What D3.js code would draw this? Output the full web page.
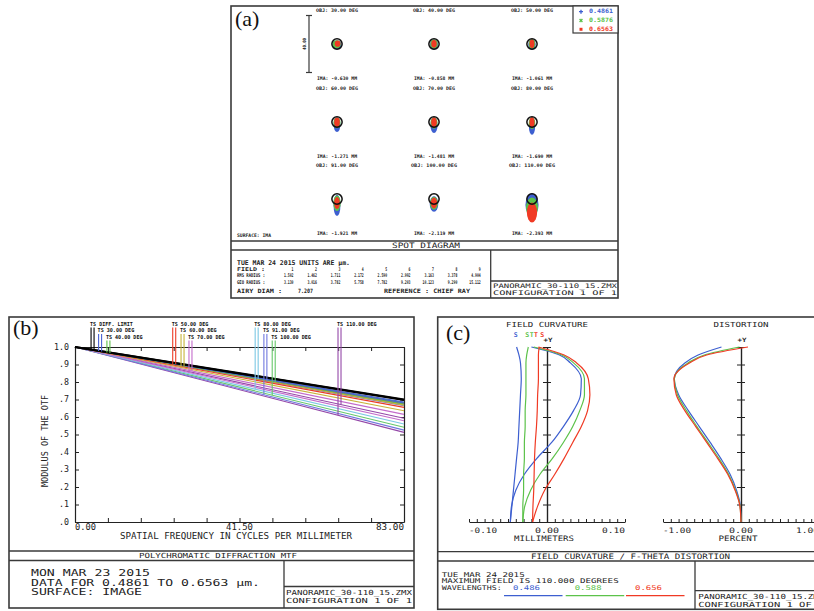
<!DOCTYPE html>
<html>
<head>
<meta charset="utf-8">
<script src="https://cdn.jsdelivr.net/npm/d3@7"></script>
<style>
  body { margin: 0; background: #fff; }
  svg { display: block; }
</style>
</head>
<body>
<svg id="fig" width="814" height="611"></svg>
<script>
// ---------- spot diagram (a) ----------
const spotWaves = ["0.4861", "0.5876", "0.6563"];
const waveColors = ["#3d5fd0", "#5cc24a", "#f03a24"];
const spotObj = ["30.00", "40.00", "50.00", "60.00", "70.00", "80.00", "91.00", "100.00", "110.00"];
const spotIma = ["-0.630", "-0.858", "-1.061", "-1.271", "-1.481", "-1.690", "-1.921", "-2.119", "-2.393"];
const rmsRadius = ["1.502", "1.462", "1.711", "2.172", "2.590", "2.992", "3.163", "3.378", "4.904"];
const geoRadius = ["3.130", "3.016", "3.782", "5.758", "7.782", "9.203", "10.123", "9.290", "15.112"];
const airyDiam = 7.207;
const scaleBarUm = 40;
// spot blobs per field: [dx, dy, rx, ry] in µm (dy down)
const spot486 = [[0, 0.6, 3.2, 3.0], [0, 0.5, 2.8, 3.4], [0, 0.5, 2.6, 3.6], [0, 2.0, 2.4, 5.0], [0, 2.4, 2.5, 5.4], [0, 3.0, 2.2, 6.0], [0, 4.5, 2.4, 7.5], [0, 3.5, 3.0, 5.5], [0, 4.0, 4.6, 8.0]];
const spot588 = [[-0.2, 0.1, 2.8, 2.8], [0, 0, 2.6, 3.1], [0, 0, 2.3, 3.3], [0, 0.6, 2.5, 3.8], [0, 0.7, 2.5, 4.0], [0, 0.8, 2.3, 4.2], [0, 3.0, 2.6, 5.5], [0, 3.0, 2.8, 4.5], [0, 6.0, 4.2, 7.0]];
const spot656 = [[0.4, -0.2, 2.0, 2.2], [0, -0.1, 1.9, 2.7], [0, -0.1, 1.7, 3.0], [0, 0.2, 2.0, 3.4], [0, 0.2, 2.0, 3.6], [0, 0.3, 1.8, 3.8], [0, 2.8, 2.0, 4.2], [0, 2.8, 2.2, 3.8], [0, 9.5, 3.6, 7.0]];

// ---------- MTF (b) ----------
const mtfFreqs = [0, 83];
const mtfFields = ["DIFF. LIMIT", "30.00 DEG", "40.00 DEG", "50.00 DEG", "60.00 DEG", "70.00 DEG", "80.00 DEG", "91.00 DEG", "100.00 DEG", "110.00 DEG"];
const mtfColors = ["#000000", "#4a62d4", "#5cc04a", "#ec3a26", "#c8b43a", "#c46ccc", "#7cc8e4", "#7078de", "#66c86a", "#9448a8"];
const mtfTan = [[1, 0.700], [1, 0.686], [1, 0.682], [1, 0.676], [1, 0.668], [1, 0.615], [1, 0.672], [1, 0.665], [1, 0.670], [1, 0.593]];
const mtfSag = [[1, 0.697], [1, 0.680], [1, 0.674], [1, 0.655], [1, 0.636], [1, 0.579], [1, 0.560], [1, 0.525], [1, 0.541], [1, 0.512]];
const mtfLegendFreq = [3.8, 5.7, 7.8, 24.4, 26.5, 28.5, 45.2, 47.4, 49.5, 66.1];
const mtfLegendRow = [0, 1, 2, 0, 1, 2, 0, 1, 2, 0];
const mtfYTicks = ["1.0", ".9", ".8", ".7", ".6", ".5", ".4", ".3", ".2", ".1", ".0"];

// ---------- field curvature / distortion (c) ----------
const fcField = [0, 10, 20, 30, 40, 50, 60, 70, 80, 90, 100, 105, 110];
const fcTan486 = [-0.047, -0.0455, -0.040, -0.029, -0.013, 0.006, 0.021, 0.034, 0.043, 0.044, 0.030, 0.016, -0.020];
const fcTan588 = [-0.031, -0.0285, -0.021, -0.009, 0.007, 0.021, 0.033, 0.042, 0.048, 0.048, 0.034, 0.019, -0.017];
const fcTan656 = [-0.0185, -0.012, -0.003, 0.010, 0.022, 0.033, 0.044, 0.052, 0.055, 0.053, 0.038, 0.022, -0.011];
const fcSag486 = [-0.047, -0.045, -0.043, -0.041, -0.039, -0.037, -0.036, -0.035, -0.034, -0.033, -0.034, -0.036, -0.039];
const fcSag588 = [-0.031, -0.031, -0.030, -0.030, -0.029, -0.029, -0.028, -0.028, -0.027, -0.027, -0.027, -0.026, -0.024];
const fcSag656 = [-0.0185, -0.018, -0.017, -0.0165, -0.016, -0.015, -0.0135, -0.0125, -0.012, -0.011, -0.011, -0.011, -0.010];
const dist486 = [0, -0.008, -0.058, -0.14, -0.26, -0.395, -0.535, -0.675, -0.80, -0.855, -0.72, -0.55, -0.25];
const dist588 = [0, -0.012, -0.07, -0.16, -0.285, -0.425, -0.565, -0.70, -0.815, -0.855, -0.68, -0.47, -0.02];
const dist656 = [0, -0.014, -0.076, -0.17, -0.30, -0.44, -0.58, -0.72, -0.83, -0.86, -0.66, -0.44, 0.09];
const fcWaves = ["0.486", "0.588", "0.656"];
const fcLabels = [["S", -0.040, 0], ["S", -0.0255, 1], ["T", -0.0195, 1], ["T", -0.014, 2], ["S", -0.006, 2]];

const svg = d3.select("#fig");
const FONT = "DejaVu Sans Mono";
const EDGE = "#3a3a3a";

function label(g, s, x, y, o = {}) {
  const t = g.append("text").attr("x", x).attr("y", y).text(s)
    .attr("font-family", o.family || FONT)
    .attr("font-size", o.size || 7)
    .attr("text-anchor", o.anchor || "start")
    .attr("dominant-baseline", "middle")
    .attr("fill", o.fill || "#222");
  if (o.bold) t.attr("font-weight", "bold");
  if (o.len) t.attr("textLength", o.len).attr("lengthAdjust", "spacingAndGlyphs");
  if (o.rotate) t.attr("transform", `rotate(${o.rotate},${x},${y})`);
  return t;
}

function hline(g, x1, x2, y, w = 1.3) {
  g.append("line").attr("x1", x1).attr("x2", x2).attr("y1", y).attr("y2", y)
    .attr("stroke", EDGE).attr("stroke-width", w);
}
function vline(g, x, y1, y2, w = 1.3) {
  g.append("line").attr("x1", x).attr("x2", x).attr("y1", y1).attr("y2", y2)
    .attr("stroke", EDGE).attr("stroke-width", w);
}
function box(g, x1, y1, x2, y2) {
  g.append("rect").attr("x", x1).attr("y", y1).attr("width", x2 - x1).attr("height", y2 - y1)
    .attr("fill", "none").attr("stroke", EDGE).attr("stroke-width", 1.6);
}

// ================= panel (a) =================
const a = svg.append("g");
box(a, 231, 6, 618, 298);
hline(a, 231, 618, 241);
hline(a, 231, 618, 250);
vline(a, 490.7, 250, 298);
hline(a, 490.7, 618, 281);
label(a, "(a)", 235, 21, { family: "Liberation Serif", size: 22, fill: "#111" });

const um = d3.scaleLinear().domain([0, scaleBarUm]).range([0, 57]);
const colX = [337, 434, 532];
const rowY = [44, 122, 199];

// scale bar
vline(a, 309, rowY[0] - um(scaleBarUm) / 2, rowY[0] + um(scaleBarUm) / 2, 1.2);
hline(a, 306, 312, rowY[0] - um(scaleBarUm) / 2, 1.2);
hline(a, 306, 312, rowY[0] + um(scaleBarUm) / 2, 1.2);
label(a, d3.format(".2f")(scaleBarUm), 305, rowY[0], { size: 4.5, bold: true, anchor: "middle", rotate: -90, len: 12 });

const blobs = [spot486, spot588, spot656];
spotObj.forEach((obj, i) => {
  const cx = colX[i % 3], cy = rowY[Math.floor(i / 3)];
  const g = a.append("g");
  blobs.forEach((wave, w) => {
    const [dx, dy, rx, ry] = wave[i];
    g.append("ellipse")
      .attr("cx", cx + um(dx)).attr("cy", cy + um(dy))
      .attr("rx", um(rx)).attr("ry", um(ry))
      .attr("fill", waveColors[w]);
  });
  g.append("circle").attr("cx", cx).attr("cy", cy).attr("r", um(airyDiam / 2))
    .attr("fill", "none").attr("stroke", "#111").attr("stroke-width", 1.5);
  label(a, `OBJ: ${obj} DEG`, cx, cy - 33, { size: 4.8, bold: true, anchor: "middle", len: obj.length > 5 ? 46 : 42 });
  label(a, `IMA: ${spotIma[i]} MM`, cx, cy + 35, { size: 4.8, bold: true, anchor: "middle", len: 40 });
});
label(a, "SURFACE: IMA", 237, 236, { size: 4.8, bold: true, len: 34 });

// legend
a.append("rect").attr("x", 573).attr("y", 6).attr("width", 45).attr("height", 27)
  .attr("fill", "#fff").attr("stroke", EDGE).attr("stroke-width", 1.2);
const legSyms = [d3.symbolCross, d3.symbolCross, d3.symbolSquare];
spotWaves.forEach((w, i) => {
  const y = 11.7 + i * 8.8;
  a.append("path").attr("d", d3.symbol(legSyms[i], 9)())
    .attr("transform", `translate(581,${y})${i === 1 ? " rotate(45)" : ""}`)
    .attr("fill", waveColors[i]);
  label(a, w, 589, y, { size: 6, bold: true, fill: waveColors[i], len: 24 });
});

label(a, "SPOT DIAGRAM", 426, 245.7, { size: 7.5, anchor: "middle", len: 68 });

// table
label(a, "TUE MAR 24 2015  UNITS ARE \u00b5m.", 237, 263, { size: 6.5, bold: true, len: 113 });
const tblRows = [["FIELD      :", spotObj.map((d, i) => String(i + 1)), 269.5], ["RMS RADIUS :", rmsRadius, 276], ["GEO RADIUS :", geoRadius, 282.5]];
tblRows.forEach(([name, vals, y]) => {
  label(a, name, 237, y, { size: 5.2, bold: true, len: 28 });
  vals.forEach((v, i) => {
    label(a, v, 293.5 + i * 23.4, y, { size: 5.2, bold: true, anchor: "end", len: v.length * 1.9 });
  });
});
label(a, "AIRY DIAM    :", 237, 291, { size: 6, bold: true, len: 45 });
label(a, d3.format(".3f")(airyDiam), 298, 291, { size: 6, bold: true, len: 15 });
label(a, "REFERENCE  : CHIEF RAY", 384, 291, { size: 6, bold: true, len: 86 });
label(a, "PANORAMIC_30-110_15.ZMX", 493, 286.3, { size: 6.3, len: 124 });
label(a, "CONFIGURATION 1 OF 1", 493, 293.6, { size: 6.3, len: 124 });

// ================= panel (b) =================
const b = svg.append("g");
box(b, 9, 317, 414, 608);
hline(b, 9, 414, 551);
hline(b, 9, 414, 560.5);
vline(b, 284, 560.5, 608);
hline(b, 284, 414, 586.5);
label(b, "(b)", 13, 330, { family: "Liberation Serif", size: 22, fill: "#111" });

const mx = d3.scaleLinear().domain([0, 83]).range([75, 404]);
const my = d3.scaleLinear().domain([0, 1]).range([522, 347]);
const xTicks = d3.range(0, 11).map(i => i * 8.3);
const yTicks = d3.range(0, 11).map(i => i / 10);

b.append("g").attr("transform", "translate(0,522)")
  .call(d3.axisBottom(mx).tickValues(xTicks).tickSize(-4).tickSizeOuter(0).tickFormat(""));
b.append("g").attr("transform", "translate(0,347)")
  .call(d3.axisTop(mx).tickValues(xTicks).tickSize(-4).tickSizeOuter(0).tickFormat(""));
b.append("g").attr("transform", "translate(75,0)")
  .call(d3.axisLeft(my).tickValues(yTicks).tickSize(-4).tickSizeOuter(0).tickFormat(""));
b.append("g").attr("transform", "translate(404,0)")
  .call(d3.axisRight(my).tickValues(yTicks).tickSize(-4).tickSizeOuter(0).tickFormat(""));
b.selectAll(".domain").attr("stroke", "#222").attr("stroke-width", 1.2);
b.selectAll(".tick line").attr("stroke", "#222").attr("stroke-width", 1);

mtfYTicks.forEach((t, i) => {
  label(b, t, 69, my(1 - i / 10), { size: 8, anchor: "end", len: t.length * 5 });
});
label(b, "0.00", mx(0), 527.5, { size: 8, len: 21 });
label(b, "41.50", mx(41.5), 527.5, { size: 8, anchor: "middle", len: 27 });
label(b, "83.00", mx(83), 527.5, { size: 8, anchor: "end", len: 28 });
label(b, "SPATIAL FREQUENCY IN CYCLES PER MILLIMETER", 236, 536.5, { size: 8, anchor: "middle", len: 232 });
label(b, "MODULUS OF THE OTF", 45, 441, { size: 8, anchor: "middle", rotate: -90, len: 92 });

const mline = d3.line().x((d, i) => mx(mtfFreqs[i])).y(d => my(d));
const order = d3.range(mtfFields.length).reverse();
order.forEach(i => {
  [mtfSag[i], mtfTan[i]].forEach(s => {
    b.append("path").attr("d", mline(s)).attr("fill", "none")
      .attr("stroke", mtfColors[i]).attr("stroke-width", i === 0 ? 2 : 1.1);
  });
});

// legend markers
mtfFields.forEach((f, i) => {
  const lx = mx(mtfLegendFreq[i]);
  const ly = 324 + mtfLegendRow[i] * 6.5;
  const s = `TS ${f}`;
  label(b, s, lx, ly, { size: 5.5, bold: true, len: s.length * 3.05, fill: "#111" });
  [[mtfSag[i], 1], [mtfTan[i], 4]].forEach(([ser, off]) => {
    const px = lx + off;
    const v = d3.scaleLinear().domain(mtfFreqs).range(ser)(mx.invert(px));
    b.append("line").attr("x1", px).attr("x2", px).attr("y1", ly + 3.5).attr("y2", my(v))
      .attr("stroke", mtfColors[i]).attr("stroke-width", 1.1);
  });
});

label(b, "POLYCHROMATIC DIFFRACTION MTF", 218, 556, { size: 7, anchor: "middle", len: 158 });
label(b, "MON MAR 23 2015", 31, 573.5, { size: 8.5, len: 119 });
label(b, "DATA FOR 0.4861 TO 0.6563 \u00b5m.", 31, 583, { size: 8.5, len: 229 });
label(b, "SURFACE: IMAGE", 31, 592.5, { size: 8.5, len: 111 });
label(b, "PANORAMIC_30-110_15.ZMX", 286, 593, { size: 7, len: 126 });
label(b, "CONFIGURATION 1 OF 1", 286, 601, { size: 7, len: 126 });

// ================= panel (c) =================
const c = svg.append("g");
box(c, 437.7, 317, 830, 609.3);
hline(c, 437.7, 830, 551.7);
hline(c, 437.7, 830, 561);
vline(c, 695, 561, 609.3);
hline(c, 695, 830, 590.7);
label(c, "(c)", 446, 335, { family: "Liberation Serif", size: 22, fill: "#111" });

const fy = d3.scaleLinear().domain([0, 110]).range([522, 347]);
const fx = d3.scaleLinear().domain([-0.1, 0.1]).range([469, 625]);
const dx = d3.scaleLinear().domain([-1, 1]).range([663, 819]);
const fieldTicks = d3.range(0, 11).map(i => i * 11);

function fieldAxis(xPos) {
  [d3.axisLeft, d3.axisRight].forEach(ax => {
    c.append("g").attr("transform", `translate(${xPos},0)`)
      .call(ax(fy).tickValues(fieldTicks).tickSize(4).tickSizeOuter(0).tickFormat(""));
  });
  label(c, "+Y", xPos + 1, 340, { size: 6, bold: true, anchor: "middle", len: 9 });
}
fieldAxis(fx(0));
fieldAxis(dx(0));
c.append("g").attr("transform", "translate(0,522)")
  .call(d3.axisBottom(fx).tickValues(d3.range(-10, 11).map(i => i / 100)).tickSize(-3).tickSizeOuter(0).tickFormat(""));
c.append("g").attr("transform", "translate(0,522)")
  .call(d3.axisBottom(dx).tickValues(d3.range(-10, 11).map(i => i / 10)).tickSize(-3).tickSizeOuter(0).tickFormat(""));
c.selectAll(".domain").attr("stroke", "#222").attr("stroke-width", 1.2);
c.selectAll(".tick line").attr("stroke", "#222").attr("stroke-width", 1);

label(c, "FIELD CURVATURE", fx(0), 325, { size: 7, anchor: "middle", len: 82 });
label(c, "DISTORTION", dx(0), 325, { size: 7, anchor: "middle", len: 55 });

const fcLine = xs => d3.line().curve(d3.curveMonotoneY)
  .x((d, i) => xs(d)).y((d, i) => fy(fcField[i]));
const fcSets = [[fcSag486, fcTan486, dist486], [fcSag588, fcTan588, dist588], [fcSag656, fcTan656, dist656]];
fcSets.forEach(([sag, tan, dist], w) => {
  [sag, tan].forEach(s => {
    c.append("path").attr("d", fcLine(fx)(s)).attr("fill", "none")
      .attr("stroke", waveColors[w]).attr("stroke-width", 1.2);
  });
  c.append("path").attr("d", fcLine(dx)(dist)).attr("fill", "none")
    .attr("stroke", waveColors[w]).attr("stroke-width", 1.2);
});
fcLabels.forEach(([t, v, w]) => {
  label(c, t, fx(v), 335, { size: 6.5, bold: true, anchor: "middle", fill: waveColors[w] });
});

label(c, "-0.10", fx(-0.1), 530.7, { size: 7.5, len: 28 });
label(c, "0.00", fx(0), 530.7, { size: 7.5, anchor: "middle", len: 24 });
label(c, "0.10", fx(0.1), 530.7, { size: 7.5, anchor: "end", len: 23 });
label(c, "MILLIMETERS", 544, 539.3, { size: 7.5, anchor: "middle", len: 60 });
label(c, "-1.00", dx(-1), 530.7, { size: 7.5, len: 28 });
label(c, "0.00", dx(0), 530.7, { size: 7.5, anchor: "middle", len: 24 });
label(c, "1.00", dx(1), 530.7, { size: 7.5, anchor: "end", len: 23 });
label(c, "PERCENT", 738, 539.3, { size: 7.5, anchor: "middle", len: 39 });

label(c, "FIELD CURVATURE / F-THETA DISTORTION", 630.5, 556.5, { size: 7.5, anchor: "middle", len: 199 });
label(c, "TUE MAR 24 2015", 441.7, 575, { size: 6.5, len: 83 });
label(c, "MAXIMUM FIELD IS 110.000 DEGREES", 441.7, 581.7, { size: 6.5, len: 177 });
label(c, "WAVELENGTHS:", 441.7, 588.3, { size: 6.5, len: 60 });
const wlX = [504, 565.7, 626];
fcWaves.forEach((w, i) => {
  label(c, w, wlX[i] + 9, 588.3, { size: 6.5, fill: waveColors[i], len: 27 });
  c.append("line").attr("x1", wlX[i]).attr("x2", wlX[i] + 58.5).attr("y1", 595.7).attr("y2", 595.7)
    .attr("stroke", waveColors[i]).attr("stroke-width", 1.2);
});
label(c, "PANORAMIC_30-110_15.ZMX", 698.3, 596.7, { size: 7, len: 126 });
label(c, "CONFIGURATION 1 OF 1", 698.3, 605, { size: 7, len: 126 });
</script>
</body>
</html>
